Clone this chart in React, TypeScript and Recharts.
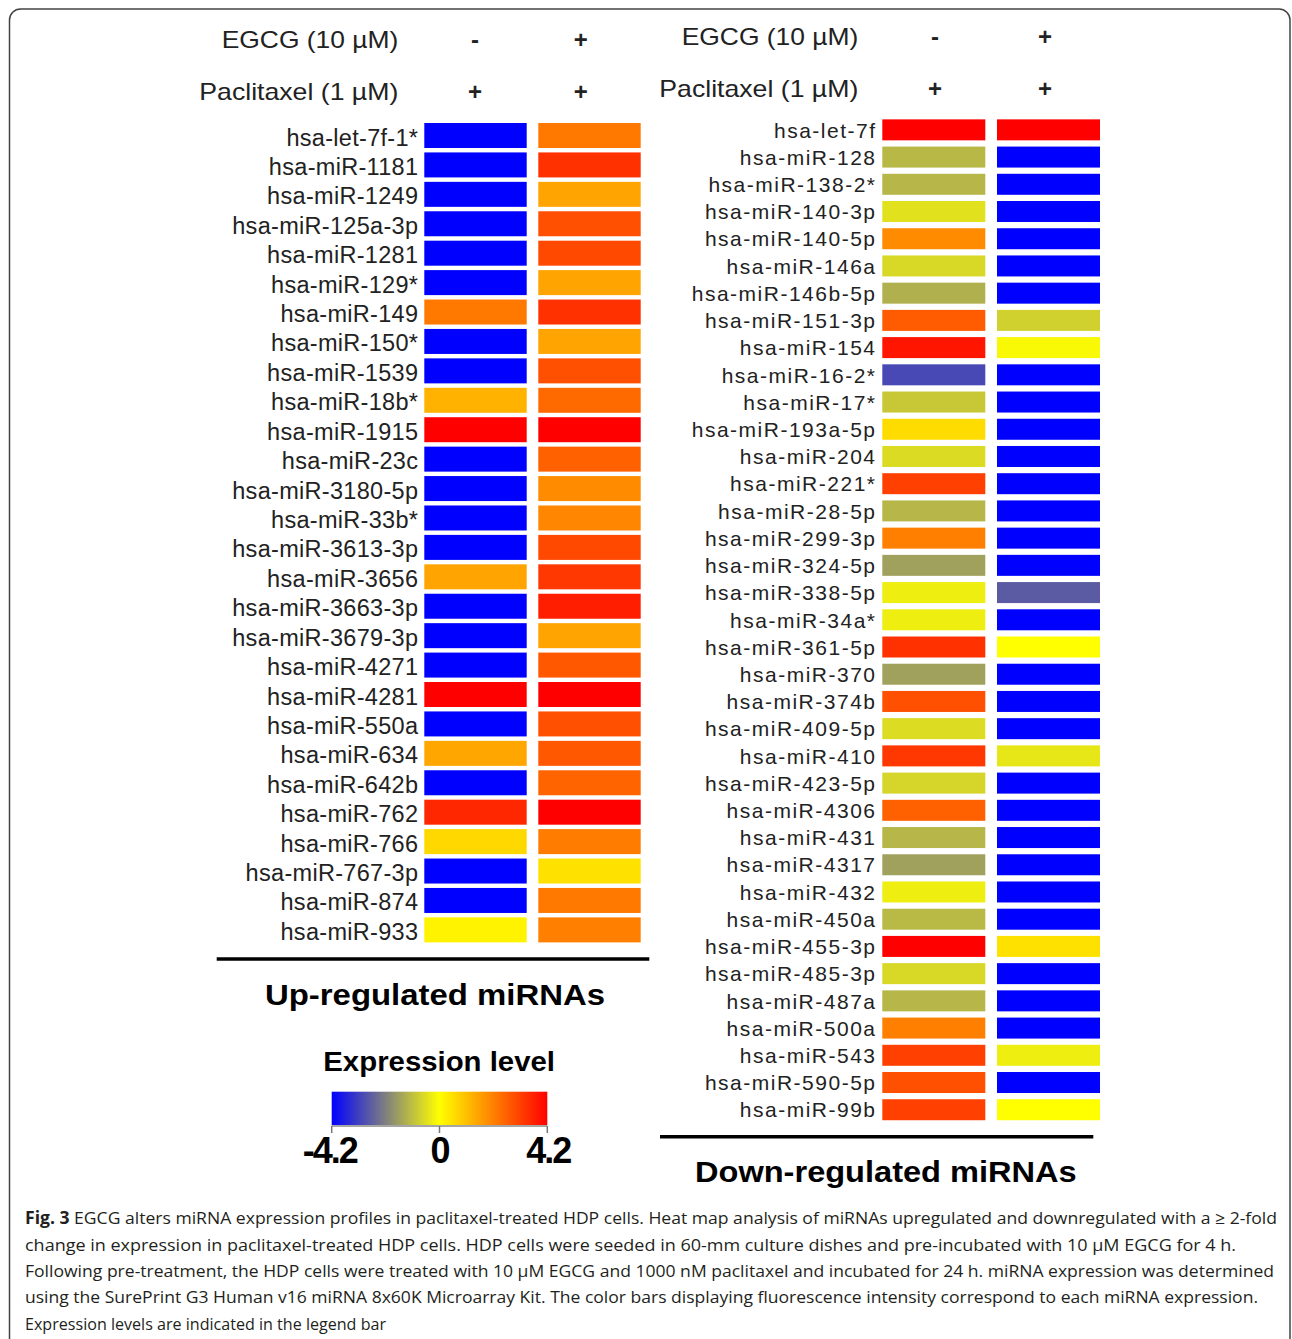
import React from "react";
import { BarChart, Bar, XAxis, YAxis } from "recharts";

// expression level per miRNA (-4.2 blue ... 0 yellow ... 4.2 red)
const UP_MIRNAS = [
  "hsa-let-7f-1*", "hsa-miR-1181", "hsa-miR-1249", "hsa-miR-125a-3p", "hsa-miR-1281",
  "hsa-miR-129*", "hsa-miR-149", "hsa-miR-150*", "hsa-miR-1539", "hsa-miR-18b*",
  "hsa-miR-1915", "hsa-miR-23c", "hsa-miR-3180-5p", "hsa-miR-33b*", "hsa-miR-3613-3p",
  "hsa-miR-3656", "hsa-miR-3663-3p", "hsa-miR-3679-3p", "hsa-miR-4271", "hsa-miR-4281",
  "hsa-miR-550a", "hsa-miR-634", "hsa-miR-642b", "hsa-miR-762", "hsa-miR-766",
  "hsa-miR-767-3p", "hsa-miR-874", "hsa-miR-933",
];
const UP_PTX = [
  -4.2, -4.2, -4.2, -4.2, -4.2, -4.2, 2.2, -4.2, -4.2, 1.25,
  4.2, -4.2, -4.2, -4.2, -4.2, 1.5, -4.2, -4.2, -4.2, 4.2,
  -4.2, 1.45, -4.2, 3.55, 0.65, -4.2, -4.2, 0.2,
];
const UP_EGCG_PTX = [
  2.2, 3.4, 1.5, 2.9, 3.0, 1.5, 3.4, 1.5, 2.9, 2.45,
  4.2, 2.6, 1.9, 2.0, 3.0, 3.3, 3.7, 1.5, 2.75, 4.2,
  2.9, 2.75, 2.55, 4.2, 2.15, 0.5, 2.2, 2.1,
];

const DOWN_MIRNAS = [
  "hsa-let-7f", "hsa-miR-128", "hsa-miR-138-2*", "hsa-miR-140-3p", "hsa-miR-140-5p",
  "hsa-miR-146a", "hsa-miR-146b-5p", "hsa-miR-151-3p", "hsa-miR-154", "hsa-miR-16-2*",
  "hsa-miR-17*", "hsa-miR-193a-5p", "hsa-miR-204", "hsa-miR-221*", "hsa-miR-28-5p",
  "hsa-miR-299-3p", "hsa-miR-324-5p", "hsa-miR-338-5p", "hsa-miR-34a*", "hsa-miR-361-5p",
  "hsa-miR-370", "hsa-miR-374b", "hsa-miR-409-5p", "hsa-miR-410", "hsa-miR-423-5p",
  "hsa-miR-4306", "hsa-miR-431", "hsa-miR-4317", "hsa-miR-432", "hsa-miR-450a",
  "hsa-miR-455-3p", "hsa-miR-485-3p", "hsa-miR-487a", "hsa-miR-500a", "hsa-miR-543",
  "hsa-miR-590-5p", "hsa-miR-99b",
];
const DOWN_PTX = [
  4.2, -1.17, -1.2, -0.5, 1.9, -0.64, -1.3, 2.7, 3.85, -3.0,
  -0.9, 0.58, -0.6, 3.15, -1.2, 2.1, -1.55, -0.28, -0.28, 3.4,
  -1.55, 2.9, -0.58, 3.3, -0.7, 2.6, -1.2, -1.55, -0.28, -1.15,
  4.2, -0.64, -1.2, 2.1, 3.15, 2.9, 3.15,
];
const DOWN_EGCG_PTX = [
  4.2, -4.2, -4.2, -4.2, -4.2, -4.2, -4.2, -0.78, -0.1, -4.2,
  -4.2, -4.2, -4.2, -4.2, -4.2, -4.2, -4.2, -2.7, -4.2, 0,
  -4.2, -4.2, -4.2, -0.4, -4.2, -4.2, -4.2, -4.2, -4.2, -4.2,
  0.5, -4.2, -4.2, -4.2, -0.28, -4.2, 0,
];

const TREATMENTS = ["EGCG (10 µM)", "Paclitaxel (1 µM)"];
const SIGNS = [["-", "+"], ["+", "+"]];
const LEGEND_TICKS = [-4.2, 0, 4.2];
const LIMIT = 4.2;

const CAPTION = [
  "EGCG alters miRNA expression profiles in paclitaxel-treated HDP cells. Heat map analysis of miRNAs upregulated and downregulated with a ≥ 2-fold",
  "change in expression in paclitaxel-treated HDP cells. HDP cells were seeded in 60-mm culture dishes and pre-incubated with 10 µM EGCG for 4 h.",
  "Following pre-treatment, the HDP cells were treated with 10 µM EGCG and 1000 nM paclitaxel and incubated for 24 h. miRNA expression was determined",
  "using the SurePrint G3 Human v16 miRNA 8x60K Microarray Kit. The color bars displaying fluorescence intensity correspond to each miRNA expression.",
  "Expression levels are indicated in the legend bar",
];

const ARIAL = "'Liberation Sans', Arial, sans-serif";

function levelColor(v: number) {
  const c = Math.max(-LIMIT, Math.min(LIMIT, v)) / LIMIT;
  if (c < 0) {
    const t = 1 + c;
    return `rgb(${Math.round(255 * t)},${Math.round(255 * t)},${Math.round(255 * (1 - t))})`;
  }
  return `rgb(255,${Math.round(255 * (1 - c))},0)`;
}

interface HeatProps {
  names: string[];
  ptx: number[];
  egcg: number[];
  width: number;
  height: number;
  top: number;
  bottom: number;
  right: number;
  axisWidth: number;
  rowGap: number;
  colGap: number;
  fontSize: number;
  spacing: number;
  dy: number;
  tickMargin: number;
}

function Heatmap(p: HeatProps) {
  const data = p.names.map((name, i) => ({
    name,
    ptx: 1,
    egcg: 1,
    ptxLevel: p.ptx[i],
    egcgLevel: p.egcg[i],
  }));
  const half = p.colGap / 2;
  return (
    <BarChart
      layout="vertical"
      width={p.width}
      height={p.height}
      data={data}
      margin={{ top: p.top, right: p.right, bottom: p.bottom, left: 0 }}
      barCategoryGap={p.rowGap}
    >
      <XAxis type="number" domain={[0, 2]} hide />
      <YAxis
        type="category"
        dataKey="name"
        width={p.axisWidth}
        axisLine={false}
        tickLine={false}
        tickSize={0}
        tickMargin={p.tickMargin}
        interval={0}
        tick={(t: any) => (
          <text
            x={t.x}
            y={t.y}
            dy={p.dy}
            textAnchor="end"
            fontFamily={ARIAL}
            fontSize={p.fontSize}
            letterSpacing={p.spacing}
            fill="#222"
          >
            {t.payload.value}
          </text>
        )}
      />
      <Bar
        dataKey="ptx"
        stackId="col"
        isAnimationActive={false}
        shape={(s: any) => (
          <rect x={s.x} y={s.y} width={s.width - half} height={s.height} fill={levelColor(s.payload.ptxLevel)} />
        )}
      />
      <Bar
        dataKey="egcg"
        stackId="col"
        isAnimationActive={false}
        shape={(s: any) => (
          <rect x={s.x + half} y={s.y} width={s.width - half} height={s.height} fill={levelColor(s.payload.egcgLevel)} />
        )}
      />
    </BarChart>
  );
}

function Header({ labelX, signX, base }: { labelX: number[]; signX: number[]; base: number[] }) {
  const lens = [176.6, 199];
  return (
    <g>
      {TREATMENTS.map((t, r) => (
        <g key={t}>
          <text x={labelX[r]} y={base[r]} fontFamily={ARIAL} fontSize={24} fill="#222" textLength={lens[r]} lengthAdjust="spacingAndGlyphs">
            {t}
          </text>
          {SIGNS[r].map((s, c) => (
            <text key={c} x={signX[c]} y={base[r]} textAnchor="middle" fontFamily={ARIAL} fontSize={24} fontWeight="bold" fill="#222">
              {s}
            </text>
          ))}
        </g>
      ))}
    </g>
  );
}

export default function App() {
  const legX0 = 331.7;
  const legX1 = 547.3;
  const legPos = (v: number) => legX0 + ((v + LIMIT) / (2 * LIMIT)) * (legX1 - legX0);
  const captionLens = [1252, 1211, 1249, 1233, 361];
  const captionBase = [1224, 1250.5, 1277, 1303, 1329.5];

  return (
    <div style={{ position: "absolute", left: 0, top: 0, width: 1292, height: 1339, overflow: "hidden", background: "#fff" }}>
      <div style={{ position: "absolute", left: 0, top: 0 }}>
        <Heatmap
          names={UP_MIRNAS}
          ptx={UP_PTX}
          egcg={UP_EGCG_PTX}
          width={660}
          height={960}
          top={120.8}
          bottom={15.4}
          right={19.3}
          axisWidth={424.3}
          rowGap={2.2}
          colGap={11.6}
          fontSize={23.5}
          spacing={0.3}
          dy={10}
          tickMargin={6}
        />
      </div>
      <div style={{ position: "absolute", left: 650, top: 0 }}>
        <Heatmap
          names={DOWN_MIRNAS}
          ptx={DOWN_PTX}
          egcg={DOWN_EGCG_PTX}
          width={470}
          height={1140}
          top={116.45}
          bottom={16.45}
          right={20}
          axisWidth={232.3}
          rowGap={2.9}
          colGap={11.7}
          fontSize={21}
          spacing={1.5}
          dy={7.5}
          tickMargin={5.8}
        />
      </div>
      <svg width={1292} height={1339} style={{ position: "absolute", left: 0, top: 0, pointerEvents: "none" }}>
        <defs>
          <linearGradient id="legendGrad" x1="0" x2="1" y1="0" y2="0">
            <stop offset="0" stopColor={levelColor(-LIMIT)} />
            <stop offset="0.5" stopColor={levelColor(0)} />
            <stop offset="1" stopColor={levelColor(LIMIT)} />
          </linearGradient>
        </defs>
        <rect x={9.5} y={9} width={1280.5} height={1400} rx={11} fill="none" stroke="#444" strokeWidth={1.5} />

        <Header labelX={[221.7, 199.3]} signX={[475, 580.7]} base={[48.3, 99.5]} />
        <Header labelX={[681.7, 659.3]} signX={[935, 1045]} base={[45.3, 96.5]} />

        <line x1={216.7} x2={649.3} y1={959} y2={959} stroke="#000" strokeWidth={3.5} />
        <text x={265} y={1005} fontFamily={ARIAL} fontSize={29} fontWeight="bold" fill="#000" textLength={340} lengthAdjust="spacingAndGlyphs">
          Up-regulated  miRNAs
        </text>
        <line x1={660} x2={1093.3} y1={1136.7} y2={1136.7} stroke="#000" strokeWidth={3.5} />
        <text x={695} y={1181.5} fontFamily={ARIAL} fontSize={29} fontWeight="bold" fill="#000" textLength={381.7} lengthAdjust="spacingAndGlyphs">
          Down-regulated miRNAs
        </text>

        <text x={323.3} y={1071} fontFamily={ARIAL} fontSize={27} fontWeight="bold" fill="#000" textLength={231.7} lengthAdjust="spacingAndGlyphs">
          Expression level
        </text>
        <rect x={legX0} y={1091.7} width={legX1 - legX0} height={33.3} fill="url(#legendGrad)" />
        <line x1={legX0} x2={legX1} y1={1126} y2={1126} stroke="#888" strokeWidth={1.5} />
        {LEGEND_TICKS.map((v) => (
          <g key={v}>
            <line x1={legPos(v)} x2={legPos(v)} y1={1126} y2={1133} stroke="#777" strokeWidth={1.5} />
            <text
              x={legPos(v) - (v < 0 ? 2 : v > 0 ? -1 : 0)}
              y={1163}
              textAnchor="middle"
              fontFamily={ARIAL}
              fontSize={36}
              fontWeight="bold"
              letterSpacing={-2}
              fill="#000"
            >
              {v === 0 ? "0" : v.toFixed(1)}
            </text>
          </g>
        ))}

        {CAPTION.map((line, i) => (
          <text
            key={i}
            x={25}
            y={captionBase[i]}
            fontFamily="'Open Sans', 'Noto Sans', sans-serif"
            fontSize={17}
            fill="#231f20"
            textLength={captionLens[i]}
            lengthAdjust="spacingAndGlyphs"
          >
            {i === 0 && <tspan fontWeight="bold">Fig. 3 </tspan>}
            {line}
          </text>
        ))}
      </svg>
    </div>
  );
}
